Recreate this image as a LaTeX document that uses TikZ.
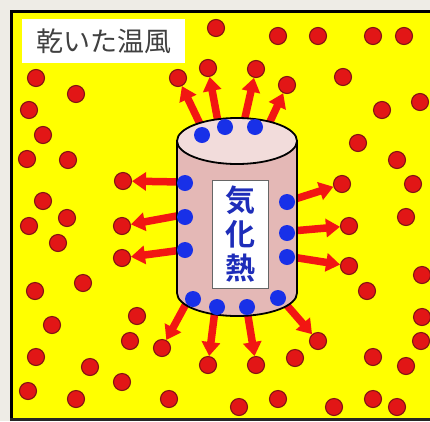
\documentclass[tikz,border=0pt]{standalone}
\usepackage{fontspec}
\newfontfamily\jpfont{Noto Sans CJK JP}
\newfontfamily\jpbold{Noto Sans CJK JP}[BoldFont={* Bold}]
\usetikzlibrary{arrows.meta}
\definecolor{pagegray}{RGB}{238,236,230}
\definecolor{airyellow}{RGB}{255,255,0}
\definecolor{dropred}{RGB}{226,22,22}
\definecolor{droprim}{RGB}{130,20,20}
\definecolor{arrowred}{RGB}{242,22,18}
\definecolor{dotblue}{RGB}{24,48,232}
\definecolor{textblue}{RGB}{30,45,185}
\definecolor{bodypink}{RGB}{228,184,182}
\definecolor{toppink}{RGB}{242,220,219}
\tikzset{
  rdot/.style={circle, fill=dropred, draw=droprim, line width=1.1pt, minimum size=17pt, inner sep=0pt},
  bdot/.style={circle, fill=dotblue, minimum size=16pt, inner sep=0pt},
  flow/.style={draw=arrowred, line width=7.5pt, -{Triangle[width=18pt,length=14pt]}},
}
\begin{document}
\begin{tikzpicture}[x=1pt,y=-1pt]
\useasboundingbox (0,0) rectangle (430,421);
\fill[pagegray] (0,0) rectangle (430,421);
\fill[airyellow] (12,12) rectangle (430,419);
% frame
\draw[line width=3.5pt] (11.5,421) -- (11.5,11.5) -- (430,11.5);
\draw[line width=3pt, black!85] (10,419.5) -- (430,419.5);

% title
\fill[white] (22,19) rectangle (185,63);
\node[font=\jpfont\fontsize{27}{27}\selectfont, text=black!75, inner sep=0pt] (title) at (104,41) {乾いた温風};

% water vapour in the air
\foreach \n/\x/\y in {
 1/216/28, 2/278/36, 3/318/36, 4/373/36, 5/404/36,
 6/36/78, 7/76/94, 8/29/110, 9/43/135, 10/27/159, 11/68/160, 12/123/181, 13/43/201,
 14/178/78, 15/208/68, 16/256/69, 17/287/85,
 18/343/77, 19/420/102, 20/382/110, 21/358/143, 22/397/160, 23/342/184, 24/413/184,
 25/29/226, 26/67/218, 27/58/243, 28/122/226, 29/122/258, 30/35/291, 31/83/283,
 32/52/325, 33/137/316, 34/130/341, 35/162/348, 36/36/357, 37/90/367, 38/122/382,
 39/28/391, 40/76/399, 41/169/399, 42/208/365,
 43/349/226, 44/406/217, 45/349/266, 46/422/275, 47/367/291, 48/422/317, 49/421/341,
 50/318/341, 51/295/358, 52/373/357, 53/406/366, 54/256/365, 55/278/399, 56/239/407,
 57/334/407, 58/373/399, 59/397/407}
  \node[rdot] (r\n) at (\x,\y) {};

% arrow tails on the cylinder surface
\coordinate (a1) at (201,126);
\coordinate (a2) at (218,122);
\coordinate (a3) at (244,122);
\coordinate (a4) at (268,126);
\coordinate (a5) at (182,182);
\coordinate (a6) at (182,215);
\coordinate (a7) at (182,250);
\coordinate (a8) at (292,200);
\coordinate (a9) at (292,231);
\coordinate (a10) at (292,257);
\coordinate (a11) at (187,302);
\coordinate (a12) at (215,310);
\coordinate (a13) at (247,310);
\coordinate (a14) at (284,302);

\draw[flow] (a1) -- (r14);
\draw[flow] (a2) -- (r15);
\draw[flow] (a3) -- (r16);
\draw[flow] (a4) -- (r17);
\draw[flow] (a5) -- (r12);
\draw[flow] (a6) -- (r28);
\draw[flow] (a7) -- (r29);
\draw[flow] (a8) -- (r23);
\draw[flow] (a9) -- (r43);
\draw[flow] (a10) -- (r45);
\draw[flow] (a11) -- (r35);
\draw[flow] (a12) -- (r42);
\draw[flow] (a13) -- (r54);
\draw[flow] (a14) -- (r50);

% cylinder
\filldraw[fill=bodypink, line width=1.8pt]
  (177,141) -- (177,293) arc[start angle=180, end angle=360, x radius=60pt, y radius=23pt] -- (297,141) -- cycle;
\filldraw[fill=toppink, line width=1.8pt] (237,141) ellipse [x radius=60pt, y radius=23pt];

% label
\node[draw=black!60, line width=0.6pt, fill=white, minimum width=56pt, minimum height=108pt, inner sep=0pt] (label) at (240,234) {};
\node[font=\jpbold\bfseries\fontsize{30}{34}\selectfont, text=textblue, align=center, inner sep=0pt] (heat) at (240,234) {気\\化\\熱};

% water molecules on the surface
\foreach \n/\x/\y in {
 1/202/135, 2/225/127, 3/255/127,
 4/185/183, 5/185/217, 6/185/250,
 7/287/202, 8/287/233, 9/287/257,
 10/193/299, 11/217/307, 12/247/307, 13/278/298}
  \node[bdot] (b\n) at (\x,\y) {};
\end{tikzpicture}
\end{document}
